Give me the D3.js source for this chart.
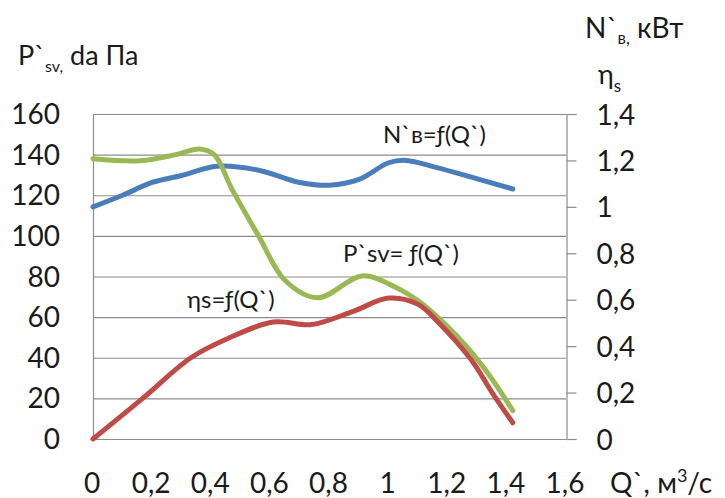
<!DOCTYPE html>
<html>
<head>
<meta charset="utf-8">
<script src="https://cdn.jsdelivr.net/npm/d3@7"></script>
<style>
  body { margin: 0; background: #fff; }
  svg text { font-family: Lato, "Noto Sans", sans-serif; fill: #1a1a1a; }
</style>
</head>
<body>
<svg id="chart" width="725" height="498"></svg>
<script>
// Q` values, m3/s
var xTicks = [0, 0.2, 0.4, 0.6, 0.8, 1, 1.2, 1.4, 1.6];
var leftTicks = [0, 20, 40, 60, 80, 100, 120, 140, 160];
var rightTicks = [0, 0.2, 0.4, 0.6, 0.8, 1, 1.2, 1.4];

// N`в = f(Q`), кВт (right axis)
var nQ = [0, 0.1, 0.2, 0.3, 0.42, 0.56, 0.7, 0.8, 0.9, 1.0, 1.06, 1.16, 1.28, 1.42];
var nVal = [1.0, 1.05, 1.105, 1.135, 1.175, 1.158, 1.105, 1.093, 1.118, 1.19, 1.2, 1.17, 1.128, 1.077];

// P`sv = f(Q`), da Па (left axis)
var pQ = [0, 0.16, 0.28, 0.36, 0.41, 0.47, 0.56, 0.65, 0.76, 0.91, 1.02, 1.1, 1.18, 1.27, 1.34, 1.42];
var pVal = [138, 137, 140, 142.8, 140, 123, 100, 78, 69.5, 80.3, 75, 68, 58, 44.5, 31.5, 14];

// ηs = f(Q`) (right axis)
var eQ = [0, 0.17, 0.33, 0.46, 0.61, 0.74, 0.88, 1.0, 1.1, 1.17, 1.28, 1.35, 1.42];
var eVal = [0, 0.177, 0.349, 0.435, 0.504, 0.493, 0.55, 0.607, 0.58, 0.5, 0.34, 0.2, 0.07];

var svg = d3.select('#chart');

var x = d3.scaleLinear().domain([0, 1.6]).range([93, 566]);
var yL = d3.scaleLinear().domain([0, 160]).range([439, 114]);
var yR = d3.scaleLinear().domain([0, 1.4]).range([439, 114]);

var comma = function(d) { return String(+d.toFixed(1)).replace('.', ','); };

// gridlines
svg.append('g').selectAll('line')
    .data(leftTicks)
    .enter().append('line')
    .attr('x1', x(0)).attr('x2', x(1.6))
    .attr('y1', function(d) { return yL(d) + 0.5; })
    .attr('y2', function(d) { return yL(d) + 0.5; })
    .style('stroke', '#8c8c8c').style('stroke-width', 1.2);

// left axis line
svg.append('line')
    .attr('x1', x(0) + 0.5).attr('x2', x(0) + 0.5)
    .attr('y1', yL(160)).attr('y2', yL(0))
    .style('stroke', '#8c8c8c').style('stroke-width', 1.2);

// left tick labels
svg.append('g').selectAll('text')
    .data(leftTicks)
    .enter().append('text')
    .attr('x', 60).attr('y', function(d) { return yL(d) + 10; })
    .attr('text-anchor', 'end')
    .style('font-size', '28px')
    .text(function(d) { return d; });

// right axis
var rightAxis = svg.append('g')
    .attr('transform', 'translate(' + (x(1.6) + 0.5) + ',0)')
    .call(d3.axisRight(yR).tickValues(rightTicks).tickSize(10).tickPadding(20).tickFormat(comma));
rightAxis.select('.domain').style('stroke', '#8c8c8c').style('stroke-width', 1.2);
rightAxis.selectAll('.tick line').style('stroke', '#8c8c8c').style('stroke-width', 1.2);
rightAxis.selectAll('.tick text')
    .attr('dy', null).attr('y', 10)
    .style('font-size', '28px').style('font-family', 'Lato, "Noto Sans", sans-serif').style('fill', '#1a1a1a');

// x tick labels
svg.append('g').selectAll('text')
    .data(xTicks)
    .enter().append('text')
    .attr('x', function(d) { return x(d) - 1; })
    .attr('y', 493)
    .attr('text-anchor', 'middle')
    .style('font-size', '28px')
    .text(comma);

// x axis title
var xt = svg.append('text').attr('x', 610).attr('y', 493).style('font-size', '28px');
xt.append('tspan').text('Q`, м');
xt.append('tspan').attr('dy', -11).style('font-size', '18px').text('3');
xt.append('tspan').attr('dy', 11).text('/с');

// left title
var lt = svg.append('text').attr('x', 18).attr('y', 65).style('font-size', '27px');
lt.append('tspan').text('P`');
lt.append('tspan').attr('dy', 7).style('font-size', '16px').text('sv,');
lt.append('tspan').attr('dy', -7).text(' da Па');

// right titles
var rt = svg.append('text').attr('x', 585).attr('y', 38).style('font-size', '28px');
rt.append('tspan').text('N`');
rt.append('tspan').attr('dy', 6).style('font-size', '17px').text('в,');
rt.append('tspan').attr('dy', -6).text(' кВт');

var et = svg.append('text').attr('x', 598).attr('y', 84).style('font-size', '27px');
et.append('tspan').text('η');
et.append('tspan').attr('dy', 8).style('font-size', '17px').text('s');

// curves
function drawLine(qs, vals, yScale, color) {
    var pts = qs.map(function(q, i) { return [q, vals[i]]; });
    var line = d3.line()
        .x(function(d) { return x(d[0]); })
        .y(function(d) { return yScale(d[1]); })
        .curve(d3.curveCatmullRom.alpha(0.5));
    svg.append('path')
        .datum(pts)
        .attr('d', line)
        .style('fill', 'none')
        .style('stroke', color)
        .style('stroke-width', 5)
        .style('stroke-linecap', 'round');
}
drawLine(nQ, nVal, yR, '#4a7ebb');
drawLine(pQ, pVal, yL, '#98b954');
drawLine(eQ, eVal, yR, '#be4b48');

// series labels
svg.append('text').attr('x', 383).attr('y', 143).style('font-size', '24px').text('N`в=ƒ(Q`)');
svg.append('text').attr('x', 343).attr('y', 262).style('font-size', '24px').text('P`sv= ƒ(Q`)');
svg.append('text').attr('x', 187).attr('y', 308).style('font-size', '24px').text('ηs=ƒ(Q`)');
</script>
</body>
</html>
